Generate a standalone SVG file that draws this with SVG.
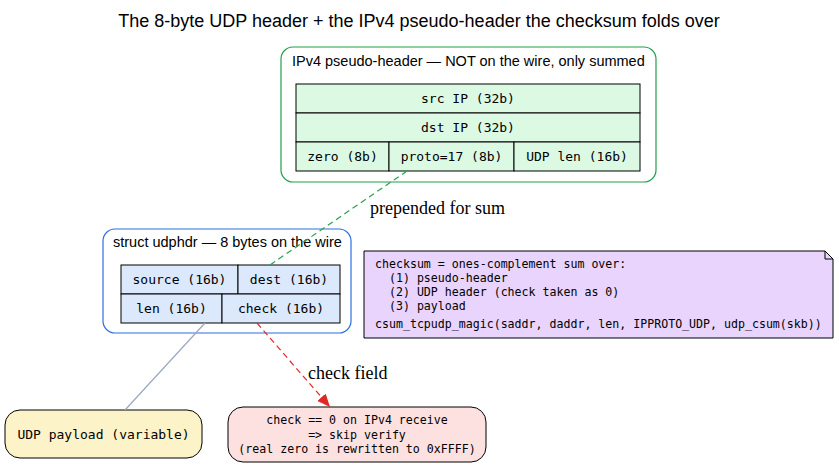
<svg xmlns="http://www.w3.org/2000/svg" width="839" height="469" viewBox="0 0 839 469">
<style>
.title{font-family:"Liberation Sans",Arial,sans-serif;font-size:18px;fill:#000}
.clab{font-family:"Liberation Sans",Arial,sans-serif;font-size:14.5px;fill:#000}
.mono{font-family:"DejaVu Sans Mono","Liberation Mono",monospace;font-size:13px;fill:#000}
.mono2{font-family:"DejaVu Sans Mono","Liberation Mono",monospace;font-size:11.6px;fill:#000;white-space:pre}
.elab{font-family:"Liberation Serif","Times New Roman",serif;font-size:18px;fill:#000}
.cellg{fill:#dcf9e4;stroke:#000;stroke-width:1}
.cellb{fill:#dce8fc;stroke:#000;stroke-width:1}
</style>
<defs>
<marker id="ah" viewBox="0 0 13 11" refX="13" refY="5.5" markerWidth="13" markerHeight="11" markerUnits="userSpaceOnUse" orient="auto">
<path d="M0,0 L13,5.5 L0,11 z" fill="#e02828"/>
</marker>
</defs>
<rect width="839" height="469" fill="#fff"/>
<text class="title" x="419" y="27" text-anchor="middle">The 8-byte UDP header + the IPv4 pseudo-header the checksum folds over</text>

<g id="pseudo">
<rect x="281" y="47" width="375" height="135" rx="12" fill="#fff" stroke="#22a04a" stroke-width="1.2"/>
<text class="clab" x="292" y="66">IPv4 pseudo-header — NOT on the wire, only summed</text>
<rect class="cellg" x="296" y="84" width="344" height="29"/>
<rect class="cellg" x="296" y="113" width="344" height="29"/>
<rect class="cellg" x="296" y="142" width="93" height="29"/>
<rect class="cellg" x="389" y="142" width="125" height="29"/>
<rect class="cellg" x="514" y="142" width="126" height="29"/>
<text class="mono" x="468" y="103" text-anchor="middle">src IP (32b)</text>
<text class="mono" x="468" y="132" text-anchor="middle">dst IP (32b)</text>
<text class="mono" x="342.5" y="161" text-anchor="middle">zero (8b)</text>
<text class="mono" x="451.5" y="161" text-anchor="middle">proto=17 (8b)</text>
<text class="mono" x="577" y="161" text-anchor="middle">UDP len (16b)</text>
</g>

<g id="udphdr">
<rect x="103" y="229" width="248" height="104" rx="12" fill="#fff" stroke="#2f6fe0" stroke-width="1.2"/>
<text class="clab" x="113" y="247">struct udphdr — 8 bytes on the wire</text>
<rect class="cellb" x="121" y="265" width="117" height="29"/>
<rect class="cellb" x="238" y="265" width="102" height="29"/>
<rect class="cellb" x="121" y="294" width="101" height="29"/>
<rect class="cellb" x="222" y="294" width="118" height="29"/>
<text class="mono" x="179.5" y="284" text-anchor="middle">source (16b)</text>
<text class="mono" x="289" y="284" text-anchor="middle">dest (16b)</text>
<text class="mono" x="171.5" y="313" text-anchor="middle">len (16b)</text>
<text class="mono" x="281" y="313" text-anchor="middle">check (16b)</text>
</g>

<g id="note">
<path d="M364,251 H825 L833,259 V338 H364 Z" fill="#e8d4fc" stroke="#000" stroke-width="1"/>
<path d="M825,251 V259 H833" fill="none" stroke="#000" stroke-width="1"/>
<text class="mono2" x="375" y="268">checksum = ones-complement sum over:</text>
<text class="mono2" x="375" y="282" xml:space="preserve">  (1) pseudo-header</text>
<text class="mono2" x="375" y="296" xml:space="preserve">  (2) UDP header (check taken as 0)</text>
<text class="mono2" x="375" y="310" xml:space="preserve">  (3) payload</text>
<text class="mono2" x="375" y="328">csum_tcpudp_magic(saddr, daddr, len, IPPROTO_UDP, udp_csum(skb))</text>
</g>

<g id="payload">
<rect x="5" y="410" width="197" height="48" rx="15" fill="#fdf3c8" stroke="#000" stroke-width="1"/>
<text class="mono" x="103.5" y="439" text-anchor="middle">UDP payload (variable)</text>
</g>

<g id="checknode">
<rect x="228" y="407" width="258" height="55" rx="15" fill="#fde0e0" stroke="#000" stroke-width="1"/>
<text class="mono2" x="357" y="424" text-anchor="middle">check == 0 on IPv4 receive</text>
<text class="mono2" x="357" y="439" text-anchor="middle">=&gt; skip verify</text>
<text class="mono2" x="357" y="453" text-anchor="middle">(real zero is rewritten to 0xFFFF)</text>
</g>

<g id="connectors">
<line x1="407" y1="171" x2="270" y2="265" stroke="#2aa050" stroke-width="1.2" stroke-dasharray="6,4"/>
<text class="elab" x="370" y="214">prepended for sum</text>
<line x1="205" y1="323" x2="125" y2="410" stroke="#9aa8c0" stroke-width="1.2"/>
<line x1="257" y1="323" x2="330" y2="407" stroke="#e02828" stroke-width="1.2" stroke-dasharray="6,4" marker-end="url(#ah)"/>
<text class="elab" x="308" y="379">check field</text>
</g>
</svg>
